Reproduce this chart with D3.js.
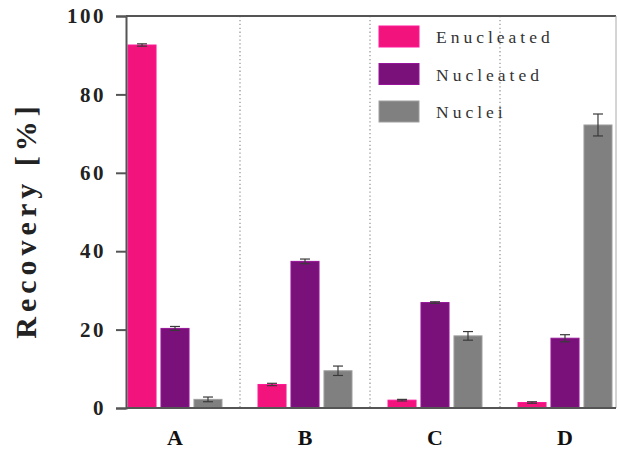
<!DOCTYPE html>
<html>
<head>
<meta charset="utf-8">
<script src="https://cdn.jsdelivr.net/npm/d3@7"></script>
<style>
  body { margin: 0; background: #fff; }
  text { font-family: "Liberation Serif", "DejaVu Serif", serif; }
</style>
</head>
<body>
<div id="chart"></div>
<script>
// data
const groups = ["A", "B", "C", "D"]
const seriesNames = ["Enucleated", "Nucleated", "Nuclei"]
const enucleated = [92.6, 6.0, 2.0, 1.4]
const enucleatedErr = [0.3, 0.3, 0.2, 0.2]
const nucleated = [20.3, 37.4, 26.9, 17.8]
const nucleatedErr = [0.5, 0.6, 0.2, 0.9]
const nuclei = [2.2, 9.5, 18.4, 72.2]
const nucleiErr = [0.6, 1.2, 1.1, 2.8]
const yTicks = [0, 20, 40, 60, 80, 100]
const colors = ["#f2137c", "#7a117b", "#808080"]

const width = 618, height = 450
const plot = { left: 126, right: 616, top: 16, bottom: 408 }

const svg = d3.select("#chart").append("svg")
    .attr("width", width)
    .attr("height", height)

const xScale = d3.scaleBand()
    .domain(groups)
    .range([110, 630])
    .paddingInner(0)

const sub = d3.scaleBand()
    .domain(seriesNames)
    .range([-47, 47])
    .paddingInner(0.15)

const yScale = d3.scaleLinear()
    .domain([0, 100])
    .range([plot.bottom, plot.top])

const values = [enucleated, nucleated, nuclei]
const errs = [enucleatedErr, nucleatedErr, nucleiErr]
const rows = []
seriesNames.forEach((s, i) => {
    groups.forEach((g, j) => {
        rows.push({ series: s, idx: i, group: g, value: values[i][j], err: errs[i][j] })
    })
})

// separators between groups
svg.append("g")
    .selectAll("line")
    .data(groups.slice(1))
    .join("line")
    .attr("x1", d => xScale(d))
    .attr("x2", d => xScale(d))
    .attr("y1", plot.top)
    .attr("y2", plot.bottom)
    .attr("stroke", "#999")
    .attr("stroke-width", 1.3)
    .attr("stroke-dasharray", "1.3,2.6")

// frame top + right
svg.append("line")
    .attr("x1", plot.left).attr("x2", plot.right)
    .attr("y1", plot.top).attr("y2", plot.top)
    .attr("stroke", "#555").attr("stroke-width", 2)
svg.append("line")
    .attr("x1", plot.right).attr("x2", plot.right)
    .attr("y1", plot.top).attr("y2", plot.bottom)
    .attr("stroke", "#aaa").attr("stroke-width", 1)

// bars
svg.append("g")
    .selectAll("rect")
    .data(rows)
    .join("rect")
    .attr("x", d => xScale(d.group) + xScale.bandwidth() / 2 + sub(d.series))
    .attr("width", sub.bandwidth())
    .attr("y", d => yScale(d.value))
    .attr("height", d => yScale(0) - yScale(d.value))
    .attr("fill", d => colors[d.idx])
    .attr("stroke", d => d3.color(colors[d.idx]).brighter(0.6))
    .attr("stroke-width", 1)

// error bars
const eb = svg.append("g")
    .attr("stroke", "#3a3a3a")
    .attr("stroke-width", 1.2)
rows.forEach(d => {
    const cx = xScale(d.group) + xScale.bandwidth() / 2 + sub(d.series) + sub.bandwidth() / 2
    const y0 = yScale(d.value - d.err), y1 = yScale(d.value + d.err)
    eb.append("line").attr("x1", cx).attr("x2", cx).attr("y1", y0).attr("y2", y1)
    eb.append("line").attr("x1", cx - 5).attr("x2", cx + 5).attr("y1", y0).attr("y2", y0)
    eb.append("line").attr("x1", cx - 5).attr("x2", cx + 5).attr("y1", y1).attr("y2", y1)
})

// y axis
const yAxis = d3.axisLeft(yScale)
    .tickValues(yTicks)
    .tickSize(10)
    .tickPadding(10)
const yGroup = svg.append("g")
    .attr("transform", `translate(${plot.left},0)`)
    .call(yAxis)
yGroup.select(".domain").attr("stroke", "#555").attr("stroke-width", 2)
yGroup.selectAll(".tick line").attr("stroke", "#555").attr("stroke-width", 2)
yGroup.selectAll(".tick text")
    .attr("fill", "#222")
    .style("font-size", "21px")
    .style("font-weight", "bold")
    .style("letter-spacing", "2.5px")
    .style("font-family", "'Liberation Serif', serif")

// x axis
svg.append("line")
    .attr("x1", plot.left).attr("x2", plot.right)
    .attr("y1", plot.bottom).attr("y2", plot.bottom)
    .attr("stroke", "#555").attr("stroke-width", 2)

svg.append("g")
    .selectAll("text")
    .data(groups)
    .join("text")
    .attr("x", d => xScale(d) + xScale.bandwidth() / 2)
    .attr("y", 445)
    .attr("text-anchor", "middle")
    .attr("fill", "#111")
    .style("font-size", "22px")
    .style("font-weight", "bold")
    .text(d => d)

// y label
svg.append("text")
    .attr("transform", "translate(36,220) rotate(-90)")
    .attr("text-anchor", "middle")
    .attr("fill", "#222")
    .style("font-size", "30px")
    .style("font-weight", "bold")
    .style("letter-spacing", "5px")
    .text("Recovery [%]")

// legend
const legend = svg.append("g")
    .attr("transform", "translate(379,26)")
const li = legend.selectAll("g")
    .data(seriesNames)
    .join("g")
    .attr("transform", (d, i) => `translate(0,${i * 37.5})`)
li.append("rect")
    .attr("width", 40)
    .attr("height", 21)
    .attr("fill", (d, i) => colors[i])
    .attr("stroke", (d, i) => d3.color(colors[i]).brighter(0.6))
li.append("text")
    .attr("x", 57)
    .attr("y", 17)
    .attr("fill", "#333")
    .style("font-size", "17.5px")
    .style("letter-spacing", "4px")
    .text(d => d)
</script>
</body>
</html>
